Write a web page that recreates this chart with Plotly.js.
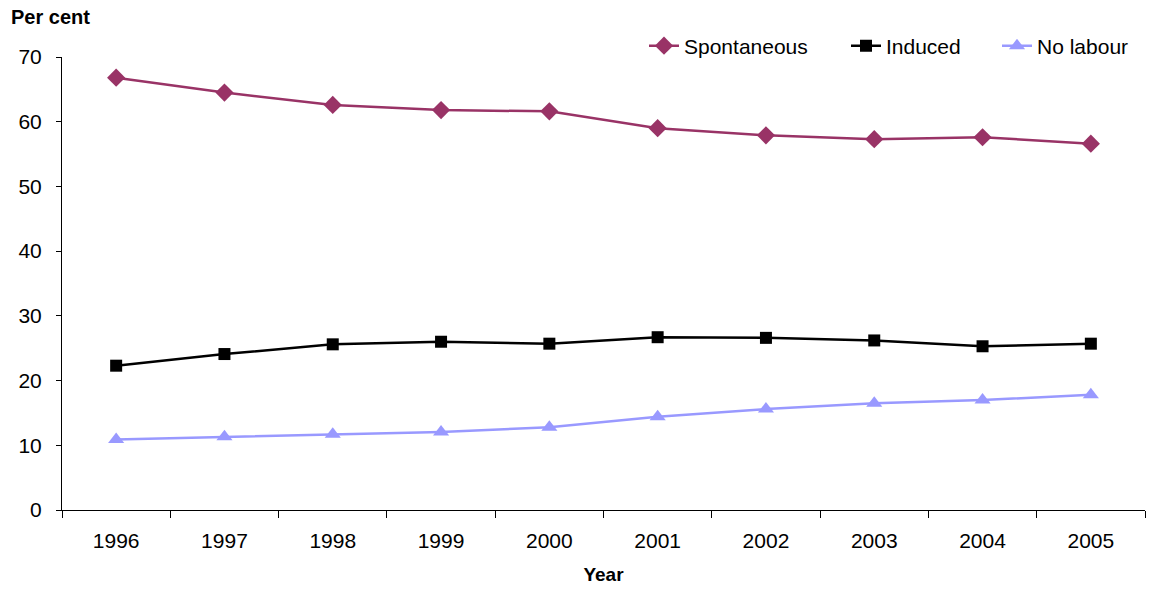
<!DOCTYPE html>
<html>
<head>
<meta charset="utf-8">
<script src="https://cdn.plot.ly/plotly-3.0.1.min.js"></script>
<style>html,body{margin:0;padding:0;background:#fff;}#chart{width:1150px;height:590px;}</style>
</head>
<body>
<div id="chart"></div>
<script>
var years = ['1996','1997','1998','1999','2000','2001','2002','2003','2004','2005'];
var spontaneous = [66.8, 64.5, 62.6, 61.8, 61.6, 59.0, 57.9, 57.3, 57.6, 56.6];
var induced = [22.3, 24.1, 25.6, 26.0, 25.7, 26.7, 26.6, 26.2, 25.3, 25.7];
var noLabour = [10.9, 11.3, 11.7, 12.05, 12.8, 14.4, 15.6, 16.5, 17.0, 17.8];
var yTicks = [0, 10, 20, 30, 40, 50, 60, 70];

var traces = [
  {x: years, y: spontaneous, name: 'Spontaneous', type: 'scatter', mode: 'lines+markers', legend: 'legend',
   line: {color: '#993366', width: 2.5}, marker: {symbol: 'diamond', size: 14, color: '#993366'}},
  {x: years, y: induced, name: 'Induced', type: 'scatter', mode: 'lines+markers', legend: 'legend2',
   line: {color: '#000000', width: 2.5}, marker: {symbol: 'square', size: 12, color: '#000000'}},
  {x: years, y: noLabour, name: 'No labour', type: 'scatter', mode: 'lines+markers', legend: 'legend3',
   line: {color: '#9999FF', width: 2.5}, marker: {symbol: 'triangle-up', size: 14, color: '#9999FF'}}
];

function leg(px) {
  return {orientation: 'h', x: px / 1150, xanchor: 'left', xref: 'container',
          y: 1 - 46/590, yanchor: 'middle', yref: 'container',
          font: {size: 21, color: '#000'}, bgcolor: 'rgba(0,0,0,0)'};
}

var layout = {
  width: 1150, height: 590,
  margin: {l: 62, r: 5, t: 57, b: 80, autoexpand: false},
  paper_bgcolor: '#fff', plot_bgcolor: '#fff',
  font: {family: 'Arial, Liberation Sans, sans-serif', color: '#000', size: 21},
  title: {text: '<b>Per cent</b>', x: 11/1150, xanchor: 'left', xref: 'container',
          y: 1 - 10/590, yanchor: 'top', yref: 'container', font: {size: 20, color: '#000'}},
  showlegend: true,
  legend: leg(644),
  legend2: leg(846),
  legend3: leg(997),
  xaxis: {type: 'category', range: [-0.5, 9.5], tickson: 'boundaries', ticks: 'outside', ticklen: 7,
          tickcolor: '#000', showline: true, linecolor: '#000', linewidth: 1, showgrid: false,
          zeroline: false, tickfont: {size: 21}, ticklabelstandoff: 12, fixedrange: true,
          title: {text: '<b>Year</b>', font: {size: 19}, standoff: 16}},
  yaxis: {range: [0, 70], tickvals: yTicks, ticks: 'outside', ticklen: 5, tickcolor: '#000',
          showline: true, linecolor: '#000', linewidth: 1, showgrid: false, zeroline: false,
          tickfont: {size: 21}, ticklabelstandoff: 10, fixedrange: true}
};

Plotly.newPlot('chart', traces, layout, {displayModeBar: false, staticPlot: true});
</script>
</body>
</html>
